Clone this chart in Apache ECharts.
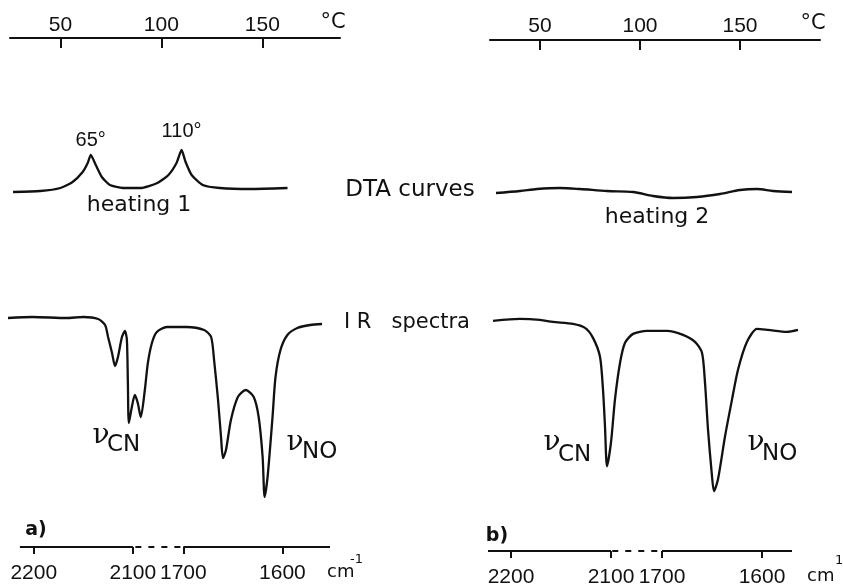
<!DOCTYPE html>
<html>
<head>
<meta charset="utf-8">
<title>DTA curves and IR spectra</title>
<script src="https://cdn.jsdelivr.net/npm/echarts@6.0.0/dist/echarts.min.js"></script>
<style>
  html, body { margin: 0; padding: 0; background: #fff; }
  #chart { width: 843px; height: 588px; }
</style>
</head>
<body>
<div id="chart"></div>
<script>
// temperature axis (°C) over the DTA curves
const tempTicks = [50, 100, 150]
// wavenumber axis (cm-1) under the IR spectra, broken between 2100 and 1700
const wnTicks = [2200, 2100, 1700, 1600]
const wnBreak = [2100, 1700]

// a) DTA, heating 1
const dtaTempA = [26.5, 40, 50, 56, 61, 63.5, 65, 67.5, 70.5, 74.5, 81, 89.5, 98, 103.5, 107.5, 110, 112, 115, 120.5, 129, 144, 162.5]
const dtaSignalA = [23, 23.5, 25, 28, 33, 37.5, 41.5, 36.5, 30.5, 26.5, 25, 25, 27.5, 31.5, 37.5, 44, 38, 31.5, 26.5, 25, 24.5, 25]
const dtaPeaksA = [65, 110]

// b) DTA, heating 2
const dtaTempB = [28, 40, 48.5, 60, 70, 83.5, 96.5, 106.5, 116.5, 128.5, 140, 150, 158.5, 166.5, 176]
const dtaSignalB = [23.5, 24.5, 25.5, 26, 25.5, 24.5, 24, 22, 21, 21.5, 23, 25, 25.5, 24.5, 24]

// a) IR spectrum
const irWnA = [2226, 2201, 2167, 2150, 2135, 2128, 2125, 2121, 2118, 2115, 2111, 2108, 2106, 2105, 2104, 2101,
  2084, 2061, 2037, 2005, 1981, 1949, 1910, 1831, 1697, 1679, 1672, 1669, 1665, 1662, 1660, 1657, 1652, 1645,
  1637, 1629, 1624, 1620, 1618, 1615, 1610, 1607, 1602, 1595, 1585, 1572, 1560]
const irTransA = [91.6, 92, 91.6, 92, 91.2, 88.8, 84, 77.6, 72.4, 76, 84, 86.4, 82.8, 65.6, 49.6, 56,
  60.8, 57.6, 52, 62.8, 73.6, 81.6, 86, 88, 88, 86.8, 84, 74.8, 58.8, 44, 35.6, 38.8, 50.8, 60,
  62.8, 60, 52, 36, 20, 28, 52, 68, 78.8, 84.8, 87.6, 88.8, 89.2]

// b) IR spectrum
const irWnB = [2218, 2191, 2171, 2158, 2138, 2126, 2118, 2111, 2108, 2106, 2104, 2100, 2069, 2029, 1990, 1927,
  1818, 1695, 1679, 1667, 1660, 1657, 1654, 1650, 1648, 1644, 1637, 1630, 1624, 1615, 1605, 1594, 1575, 1564]
const irTransB = [92.4, 93.2, 92.8, 92, 91.2, 89.6, 85.6, 78, 64.8, 50, 34, 43.6, 60.8, 75.6, 83.6, 87.2,
  88.4, 88.4, 86.8, 84, 79.6, 67.6, 48.8, 30, 24, 28.8, 46, 60.8, 72.8, 84, 89.2, 88.8, 88, 88.8]

// visible extent of each wavenumber axis [left, right]
const irRangeA = [2226, 1552]
const irRangeB = [2223, 1564]
// where the drawn axis line runs, and the dashed piece across the break
const irLineA = [2214, 1552]
const irLineB = [2223, 1570]
const irDashA = [2080, 1720]
const irDashB = [2090, 1712]

const ink = '#111'
const fontFamily = '"DejaVu Sans", sans-serif'
const numFont = '"Liberation Sans", Arial, sans-serif'

// broken axis: 2100..1700 squeezed into a short stretch of the axis
const BREAK_SPAN = 51
const wnToPos = (wn) => {
  if (wn >= wnBreak[0]) return wnTicks[0] - wn
  if (wn >= wnBreak[1]) return (wnTicks[0] - wnBreak[0]) + (wnBreak[0] - wn) * BREAK_SPAN / (wnBreak[0] - wnBreak[1])
  return (wnTicks[0] - wnBreak[0]) + BREAK_SPAN + (wnBreak[1] - wn)
}
const posToWn = (p) => {
  const first = wnTicks[0] - wnBreak[0]
  if (p <= first) return wnTicks[0] - p
  if (p <= first + BREAK_SPAN) return wnBreak[0] - (p - first) * (wnBreak[0] - wnBreak[1]) / BREAK_SPAN
  return wnBreak[1] - (p - first - BREAK_SPAN)
}
const wnTickPos = wnTicks.map(wnToPos)

const zip = (xs, ys) => xs.map((x, i) => [x, ys[i]])
const zipWn = (xs, ys) => xs.map((x, i) => [wnToPos(x), ys[i]])

const tempAxis = (gridIndex, min, max, margin) => ({
  type: 'value',
  gridIndex,
  position: 'top',
  min,
  max,
  axisLine: { show: true, onZero: false, lineStyle: { color: ink, width: 2 } },
  axisTick: { show: true, inside: true, length: 10, customValues: tempTicks, lineStyle: { color: ink, width: 2 } },
  axisLabel: { show: true, margin, customValues: tempTicks, color: ink, fontSize: 21, fontFamily: numFont },
  splitLine: { show: false }
})

const wnAxis = (gridIndex, range) => ({
  type: 'value',
  gridIndex,
  min: wnToPos(range[0]),
  max: wnToPos(range[1]),
  axisLine: { show: false, onZero: false },
  axisTick: { show: true, length: 7, customValues: wnTickPos, lineStyle: { color: ink, width: 2 } },
  axisLabel: {
    show: true,
    margin: 16,
    customValues: wnTickPos,
    color: ink,
    fontSize: 21,
    fontFamily: numFont,
    formatter: (v) => String(Math.round(posToWn(v)))
  },
  splitLine: { show: false }
})

const hiddenY = (gridIndex) => ({
  type: 'value', gridIndex, min: 0, max: 100, show: false, splitLine: { show: false }
})

// axis line drawn as marker lines so the break can be dashed
const axisLineMarks = (line, dash) => ({
  silent: true,
  symbol: 'none',
  label: { show: false },
  lineStyle: { color: ink, width: 2, type: 'solid' },
  data: [
    [{ coord: [wnToPos(line[0]), 0] }, { coord: [wnToPos(wnBreak[0]), 0] }],
    [{ coord: [wnToPos(dash[0]), 0], lineStyle: { type: [6, 7], color: ink, width: 2 } }, { coord: [wnToPos(dash[1]), 0] }],
    [{ coord: [wnToPos(wnBreak[1]), 0] }, { coord: [wnToPos(line[1]), 0] }]
  ]
})

const curve = (name, xi, data, smooth) => ({
  name,
  type: 'line',
  xAxisIndex: xi,
  yAxisIndex: xi,
  data,
  smooth,
  symbol: 'none',
  clip: false,
  lineStyle: { color: ink, width: 2.3 },
  emphasis: { disabled: true }
})

const text = (str, x, y, size, extra) => ({
  type: 'text',
  x,
  y,
  silent: true,
  style: Object.assign({
    text: str,
    fill: ink,
    font: `${size}px ${fontFamily}`,
    textAlign: 'center',
    textVerticalAlign: 'middle'
  }, extra || {})
})

const nu = (x, y) => text('ν', x, y, 28, { font: '28px "DejaVu Serif", serif' })
const sub = (str, x, y) => text(str, x, y, 23, { textAlign: 'left' })

const chart = echarts.init(document.getElementById('chart'), null, { renderer: 'canvas' })

const peakSignal = (t) => dtaSignalA[dtaTempA.indexOf(t)]

const dtaSeriesA = curve('heating 1', 0, zip(dtaTempA, dtaSignalA), 0.2)
dtaSeriesA.markPoint = {
  silent: true,
  symbol: 'circle',
  symbolSize: 0,
  label: { show: true, position: 'top', color: ink, fontSize: 20, fontFamily: numFont, formatter: (p) => p.value + '°' },
  data: dtaPeaksA.map((t, i) => ({ coord: [t, peakSignal(t)], value: t, label: { distance: i === 0 ? 5 : 9 } }))
}

const irSeriesA = curve('IR a', 2, zipWn(irWnA, irTransA), 0.25)
irSeriesA.markLine = axisLineMarks(irLineA, irDashA)
const irSeriesB = curve('IR b', 3, zipWn(irWnB, irTransB), 0.25)
irSeriesB.markLine = axisLineMarks(irLineB, irDashB)

const option = {
  backgroundColor: '#fff',
  animation: false,
  grid: [
    { left: 10, width: 330, top: 38, height: 200 },
    { left: 490, width: 330, top: 40, height: 200 },
    { left: 8, width: 322, top: 297, height: 250 },
    { left: 488, width: 310, top: 302, height: 250 }
  ],
  xAxis: [
    tempAxis(0, 25, 188.5, 2),
    tempAxis(1, 25, 190, 3),
    wnAxis(2, irRangeA),
    wnAxis(3, irRangeB)
  ],
  yAxis: [hiddenY(0), hiddenY(1), hiddenY(2), hiddenY(3)],
  series: [
    dtaSeriesA,
    curve('heating 2', 1, zip(dtaTempB, dtaSignalB), 0.3),
    irSeriesA,
    irSeriesB
  ],
  graphic: {
    elements: [
      text('°C', 333, 23, 21),
      text('°C', 813, 24, 21),
      text('DTA curves', 410, 190, 23),
      text('heating 1', 139, 205, 22),
      text('heating 2', 657, 217, 22),
      text('I R   spectra', 344, 323, 21, { textAlign: 'left' }),
      nu(101, 436), sub('CN', 107, 445),
      nu(295, 443), sub('NO', 302, 452),
      nu(552, 443), sub('CN', 558, 455),
      nu(756, 443), sub('NO', 762, 454),
      text('a)', 36, 530, 19, { font: `bold 19px ${fontFamily}` }),
      text('b)', 497, 536, 19, { font: `bold 19px ${fontFamily}` }),
      text('cm', 327, 572, 18, { textAlign: 'left' }),
      text('-1', 350, 560, 13, { textAlign: 'left' }),
      text('cm', 807, 576, 18, { textAlign: 'left' }),
      text('1', 835, 561, 13, { textAlign: 'left' })
    ]
  }
}

chart.setOption(option)
window.addEventListener('resize', () => chart.resize())
</script>
</body>
</html>
